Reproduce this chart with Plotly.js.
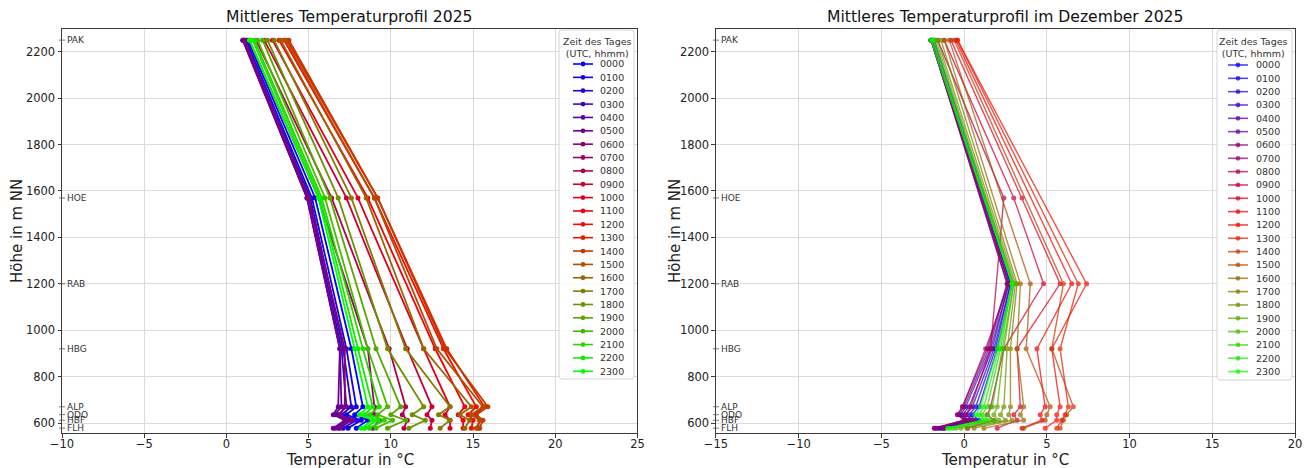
<!DOCTYPE html>
<html>
<head>
<meta charset="utf-8">
<script src="https://cdn.plot.ly/plotly-3.0.1.min.js"></script>
<style>html,body{margin:0;padding:0;background:#fff;}#chart{width:1309px;height:468px;}</style>
</head>
<body>
<div id="chart"></div>
<script>
// ---------- data ----------
const hours = ["0000","0100","0200","0300","0400","0500","0600","0700","0800","0900","1000","1100",
               "1200","1300","1400","1500","1600","1700","1800","1900","2000","2100","2200","2300"];
const stationNames = ["PAK","HOE","RAB","HBG","ALP","ODO","HBF","FLH"];
const stationHeights = [2250,1570,1200,920,670,636,612,578];

// annual mean 2025 (°C), one value per hour
const annPAK = [1.3,1.2,1.1,1.05,1.0,1.0,1.1,1.4,1.8,2.3,2.8,3.2,3.5,3.7,3.8,3.6,3.3,2.9,2.5,2.2,1.9,1.7,1.6,1.4];
const annHOE = [5.4,5.2,5.1,5.0,4.9,4.9,5.0,5.6,6.4,7.3,8.0,8.6,9.0,9.2,9.2,9.0,8.5,7.6,6.8,6.3,6.0,5.8,5.7,5.6];
const annRAB = [null,null,null,null,null,null,null,null,null,null,null,null,null,null,null,null,null,null,null,null,null,null,null,null];
const annHBG = [7.6,7.3,7.1,7.0,6.9,6.9,7.2,8.6,9.9,11.0,12.0,12.7,13.2,13.4,13.3,12.8,12.0,10.9,9.8,9.1,8.6,8.3,8.0,7.8];
const annALP = [8.3,7.9,7.6,7.3,7.0,6.8,7.2,9.0,10.9,12.5,13.6,14.5,15.2,15.7,15.9,15.6,14.9,13.6,12.0,10.6,9.8,9.3,8.9,8.6];
const annODO = [7.8,7.3,7.0,6.8,6.6,6.5,6.9,9.0,10.7,12.2,13.3,14.1,14.7,15.1,15.2,14.9,14.2,12.9,11.3,10.0,9.2,8.7,8.4,8.1];
const annHBF = [8.6,8.2,7.9,7.6,7.4,7.2,7.6,9.3,11.0,12.5,13.6,14.4,15.0,15.4,15.6,15.4,14.8,13.6,12.1,10.9,10.1,9.6,9.2,8.9];
const annFLH = [7.9,7.4,7.1,6.8,6.6,6.5,6.9,8.9,10.8,12.4,13.6,14.4,14.9,15.3,15.4,15.2,14.5,13.0,11.1,9.8,9.1,8.7,8.4,8.2];

// December 2025 mean (°C)
const decPAK = [-1.8,-1.9,-1.9,-2.0,-2.0,-2.0,-2.0,-1.9,-1.6,-1.2,-0.8,-0.5,-0.4,-0.4,-0.6,-0.9,-1.2,-1.4,-1.6,-1.7,-1.8,-1.9,-1.9,-2.0];
const decHOE = [null,null,null,null,null,null,null,null,2.4,3.0,3.5,null,null,null,null,null,null,null,null,null,null,null,null,null];
const decRAB = [2.9,2.8,2.8,2.7,2.7,2.6,2.6,2.7,null,4.8,5.8,6.5,7.4,6.9,6.0,4.0,3.4,3.2,3.1,3.0,3.0,2.9,2.9,2.9];
const decHBG = [2.0,1.9,1.8,1.7,1.6,1.5,1.4,1.3,1.6,2.4,3.2,4.4,5.3,5.8,5.3,3.75,3.2,2.8,2.6,2.4,2.3,2.2,2.1,2.0];
const decALP = [0.9,0.7,0.5,0.3,0.1,0.0,-0.1,-0.1,0.4,1.6,3.4,4.9,5.8,6.3,6.6,5.2,3.6,2.8,2.4,2.0,1.7,1.4,1.2,1.0];
const decODO = [0.5,0.3,0.1,-0.1,-0.2,-0.3,-0.4,-0.4,0.1,1.4,3.0,4.6,5.6,6.1,6.2,5.0,3.4,2.7,2.2,1.8,1.4,1.1,0.9,0.7];
const decHBF = [0.9,0.7,0.5,0.3,0.2,0.1,0.0,0.0,0.6,1.8,3.2,4.7,5.6,5.9,6.0,4.9,3.6,2.9,2.5,2.1,1.8,1.5,1.3,1.1];
const decFLH = [-1.2,-1.3,-1.4,-1.5,-1.6,-1.7,-1.8,-1.8,-1.2,0.2,2.0,3.5,4.9,5.6,5.8,3.6,1.2,0.6,0.2,-0.2,-0.5,-0.7,-0.9,-1.0];

// colour per hour (brg colormap)
const hourColors = ["#0000ff","#1600e9","#2c00d3","#4300bc","#5900a6","#6f0090","#85007a","#9b0064",
                    "#b1004e","#c80037","#de0021","#f4000b","#f40b00","#de2100","#c83700","#b14e00",
                    "#9b6400","#857a00","#6f9000","#59a600","#43bc00","#2cd300","#16e900","#00ff00"];

// ---------- figure ----------
const W = 1309, H = 468, mL = 62, mR = 14, mT = 29, mB = 35;
const pw = W - mL - mR, ph = H - mT - mB;
const px2x = px => (px - mL) / pw;
const py2y = py => (H - mB - py) / ph;

const annual = [annPAK, annHOE, annRAB, annHBG, annALP, annODO, annHBF, annFLH];
const december = [decPAK, decHOE, decRAB, decHBG, decALP, decODO, decHBF, decFLH];

const traces = [];
function addTraces(arrs, xa, ya, opacity, width) {
  hours.forEach((hh, h) => {
    traces.push({
      type: 'scatter', mode: 'lines+markers', name: hh,
      x: arrs.map(a => a[h]), y: stationHeights, connectgaps: true,
      xaxis: xa, yaxis: ya, opacity: opacity, showlegend: false,
      line: {color: hourColors[h], width: width},
      marker: {color: hourColors[h], size: 5}
    });
  });
}
addTraces(annual, 'x', 'y', 1, 1.8);
addTraces(december, 'x2', 'y2', 0.72, 1.4);

const font = "DejaVu Sans, sans-serif";
const axisCommon = {
  showgrid: true, gridcolor: '#dadada', gridwidth: 1,
  showline: true, linecolor: '#3a3a3a', linewidth: 1, mirror: true,
  ticks: 'outside', ticklen: 3.5, tickcolor: '#3a3a3a',
  tickfont: {family: font, size: 11.5, color: '#222'}, zeroline: false
};
const domL = [0, 0.4667], domR = [0.5304, 1];
const layout = {
  width: W, height: H, margin: {l: mL, r: mR, t: mT, b: mB},
  paper_bgcolor: '#fff', plot_bgcolor: '#fff', showlegend: false,
  font: {family: font},
  xaxis: Object.assign({}, axisCommon, {domain: domL, range: [-10, 25], dtick: 5, tick0: 0, anchor: 'y', ticklabelstandoff: -3}),
  yaxis: Object.assign({}, axisCommon, {domain: [0, 1], range: [557, 2298], dtick: 200, tick0: 0, anchor: 'x'}),
  xaxis2: Object.assign({}, axisCommon, {domain: domR, range: [-15, 20], dtick: 5, tick0: 0, anchor: 'y2', ticklabelstandoff: -3}),
  yaxis2: Object.assign({}, axisCommon, {domain: [0, 1], range: [557, 2298], dtick: 200, tick0: 0, anchor: 'x2'}),
  annotations: [], shapes: []
};

// subplot titles
[['Mittleres Temperaturprofil 2025', (domL[0] + domL[1]) / 2], ['Mittleres Temperaturprofil im Dezember 2025', (domR[0] + domR[1]) / 2]]
  .forEach(([t, x]) => layout.annotations.push({text: t, x: x, y: 1, xref: 'paper', yref: 'paper',
    xanchor: 'center', yanchor: 'bottom', yshift: 1, showarrow: false, font: {family: font, size: 15.6, color: '#111'}}));

// axis titles
[(domL[0] + domL[1]) / 2, (domR[0] + domR[1]) / 2].forEach(x => layout.annotations.push({
  text: 'Temperatur in °C', x: x, y: py2y(460), xref: 'paper', yref: 'paper', xanchor: 'center', yanchor: 'middle',
  showarrow: false, font: {family: font, size: 15, color: '#222'}}));
[17, 675].forEach(px => layout.annotations.push({
  text: 'Höhe in m NN', x: px2x(px), y: py2y(231), xref: 'paper', yref: 'paper', xanchor: 'center', yanchor: 'middle',
  textangle: -90, showarrow: false, font: {family: font, size: 15, color: '#222'}}));

// station labels + marks on both plots
['x', 'x2'].forEach((xa, k) => {
  const ya = k === 0 ? 'y' : 'y2';
  stationNames.forEach((s, i) => {
    layout.annotations.push({text: s, xref: xa + ' domain', yref: ya, x: 0, y: stationHeights[i],
      xanchor: 'left', yanchor: 'middle', xshift: 3, showarrow: false,
      font: {family: font, size: 9, color: '#333'}});
    layout.shapes.push({type: 'line', xref: xa + ' domain', yref: ya, xsizemode: 'pixel', xanchor: 0,
      x0: -3, x1: 3, y0: stationHeights[i], y1: stationHeights[i], line: {color: '#555', width: 0.8}});
  });
});

// manual legends
function legend(box, lineX0, lineX1, textX, titleX, firstY, stepY, opacity) {
  const [bx0, by0, bx1, by1] = box;
  const r = 3;
  const X = px => px2x(px), Y = py => py2y(py);
  const path = `M ${X(bx0 + r)} ${Y(by0)} L ${X(bx1 - r)} ${Y(by0)} Q ${X(bx1)} ${Y(by0)} ${X(bx1)} ${Y(by0 + r)} ` +
               `L ${X(bx1)} ${Y(by1 - r)} Q ${X(bx1)} ${Y(by1)} ${X(bx1 - r)} ${Y(by1)} L ${X(bx0 + r)} ${Y(by1)} ` +
               `Q ${X(bx0)} ${Y(by1)} ${X(bx0)} ${Y(by1 - r)} L ${X(bx0)} ${Y(by0 + r)} Q ${X(bx0)} ${Y(by0)} ${X(bx0 + r)} ${Y(by0)} Z`;
  layout.shapes.push({type: 'path', xref: 'paper', yref: 'paper', path: path,
    fillcolor: 'rgba(255,255,255,0.85)', line: {color: '#d4d4d4', width: 1}, layer: 'above'});
  layout.annotations.push({text: 'Zeit des Tages<br>(UTC, hhmm)', xref: 'paper', yref: 'paper',
    x: X(titleX), y: Y(by0 + 4), xanchor: 'center', yanchor: 'top', showarrow: false, align: 'center',
    font: {family: font, size: 9.5, color: '#333'}});
  hours.forEach((hh, i) => {
    const py = firstY + i * stepY;
    const c = hourColors[i];
    layout.shapes.push({type: 'line', xref: 'paper', yref: 'paper', x0: X(lineX0), x1: X(lineX1), y0: Y(py), y1: Y(py),
      line: {color: c, width: 1.6}, opacity: opacity, layer: 'above'});
    layout.shapes.push({type: 'circle', xref: 'paper', yref: 'paper', xsizemode: 'pixel', ysizemode: 'pixel',
      xanchor: X((lineX0 + lineX1) / 2), yanchor: Y(py), x0: -2.4, x1: 2.4, y0: -2.4, y1: 2.4,
      fillcolor: c, line: {width: 0}, opacity: opacity, layer: 'above'});
    layout.annotations.push({text: hh, xref: 'paper', yref: 'paper', x: X(textX), y: Y(py),
      xanchor: 'left', yanchor: 'middle', showarrow: false, font: {family: font, size: 9.5, color: '#333'}});
  });
}
legend([559, 30, 634, 379], 573, 593, 598, 597, 64, 13.36, 1);
legend([1217, 30, 1292, 380], 1228, 1248, 1254, 1253, 65, 13.33, 0.72);

Plotly.newPlot('chart', traces, layout, {displayModeBar: false, staticPlot: true});
</script>
</body>
</html>
